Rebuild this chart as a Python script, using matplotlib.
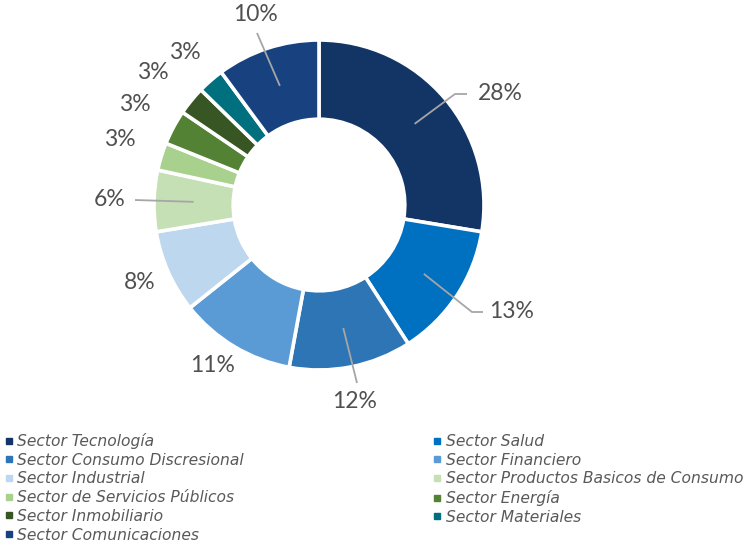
import matplotlib
matplotlib.use("Agg")
import matplotlib.pyplot as plt, numpy as np
from matplotlib.lines import Line2D

### DATA
sectors = ["Sector Tecnología", "Sector Salud", "Sector Consumo Discresional",
	"Sector Financiero", "Sector Industrial", "Sector Productos Basicos de Consumo",
	"Sector de Servicios Públicos", "Sector Energía", "Sector Inmobiliario",
	"Sector Materiales", "Sector Comunicaciones"]
weights = [27.6, 13.3, 12.0, 11.4, 8.1, 6.0, 2.7, 3.4, 2.8, 2.6, 10.1]  # percent
colors = ["#133566", "#0070C0", "#2E75B6", "#5B9BD5", "#BDD7EE", "#C5E0B4",
	"#A9D18E", "#548235", "#375623", "#00707F", "#17427F"]

### LAYOUT (pixels in a 753x544 canvas)
W, H = 753, 544
cx, cy, R = 319, 205, 165
# label centre per slice, and leader points after the anchor (None = no line)
label_pos = [(500, 94), (512, 311), (355, 401), (213, 366), (140, 283), (110, 200),
	(120, 140), (135, 105), (153, 73), (185, 53), (255, 15)]
leaders = [[(455, 94), (467, 94)], [(472, 312), (483, 312)], [(357, 383)], None, None,
	[(135, 200)], None, None, None, None, [(257, 33)]]

def to_data(p):
	return ((p[0] - cx) / R, (cy - p[1]) / R)

fig = plt.figure(figsize=(W / 100, H / 100), dpi=100)
ax = fig.add_axes([0, 0, 1, 1])

wedges, _ = ax.pie(weights, colors=colors, startangle=90, counterclock=False,
	radius=1.0, wedgeprops=dict(width=0.48, edgecolor='white', linewidth=2.6))
ax.set_xlim(-cx / R, (W - cx) / R)
ax.set_ylim(-(H - cy) / R, cy / R)
ax.axis('off')

label_font = dict(family=['Lato', 'DejaVu Sans'], weight='normal', style='normal',
	size=16.5, color='#505050')
for i, w in enumerate(wedges):
	mid = np.deg2rad((w.theta1 + w.theta2) / 2)
	anchor = (0.76 * np.cos(mid), 0.76 * np.sin(mid))
	tx, ty = to_data(label_pos[i])
	ax.text(tx, ty, "%.0f%%" % weights[i], ha='center', va='center', **label_font)
	if leaders[i] is not None:
		pts = [anchor] + [to_data(p) for p in leaders[i]]
		ax.plot([p[0] for p in pts], [p[1] for p in pts], color='#A6A6A6', lw=1.3,
			solid_capstyle='butt')

# legend filled row by row, two columns
handles = [Line2D([], [], marker='s', ls='', color=c, markersize=4.5) for c in colors]
order = [0, 2, 4, 6, 8, 10, 1, 3, 5, 7, 9]
leg = fig.legend([handles[i] for i in order], [sectors[i] for i in order], ncol=2,
	loc='upper left', bbox_to_anchor=(5 / W, 1 - 433 / H), frameon=False,
	handlelength=0.5, handletextpad=0.3, labelspacing=0.24, columnspacing=12.15,
	borderaxespad=0, borderpad=0.0,
	prop=dict(family='DejaVu Sans', style='italic', size=11.2))
for t in leg.get_texts():
	t.set_color('#595959')

plt.savefig("out.png", dpi=100)
